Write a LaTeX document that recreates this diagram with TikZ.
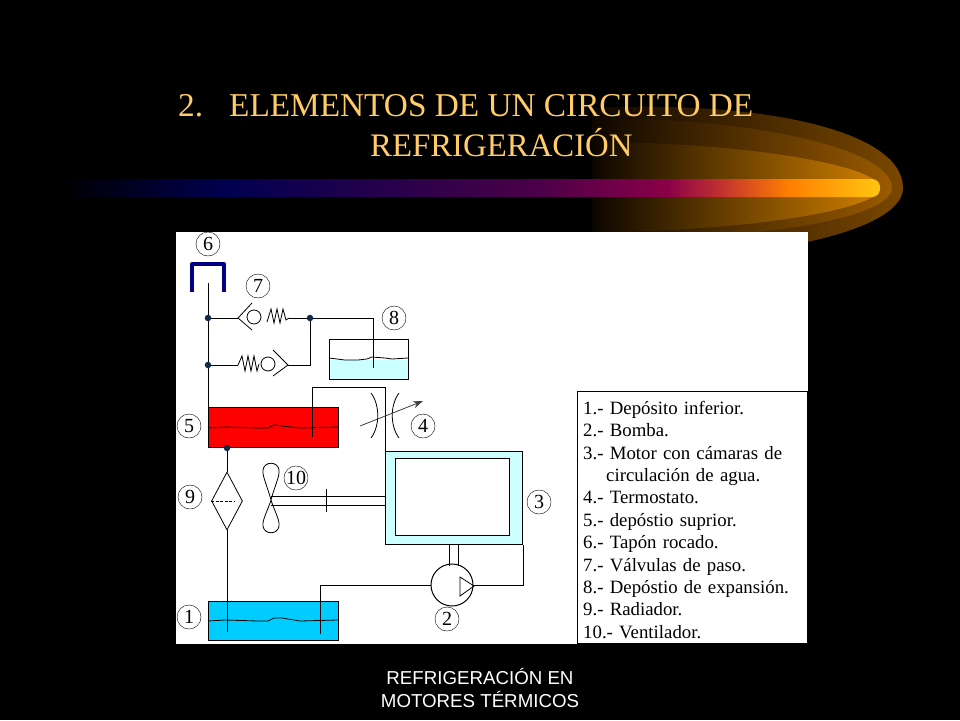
\documentclass[tikz,border=0pt]{standalone}
\usepackage{fontspec}
\setmainfont{Liberation Serif}
\newfontfamily\footfont{Liberation Sans}
\usetikzlibrary{shapes.geometric,positioning,arrows.meta}
\definecolor{titlegold}{HTML}{FFCC66}
\definecolor{capblue}{HTML}{000080}
\definecolor{dotblue}{HTML}{0F2B4A}
\definecolor{paleblue}{HTML}{CCFFFF}
\definecolor{lowblue}{HTML}{00CCFF}
\definecolor{glowstart}{HTML}{0C0600}
\definecolor{glowouter}{HTML}{7A4700}
\definecolor{glowmiddle}{HTML}{9A5A00}
\definecolor{glowinner}{HTML}{D08000}
\definecolor{barnavy}{HTML}{000050}
\definecolor{barpurple}{HTML}{4A0048}
\definecolor{barmagenta}{HTML}{8A0048}
\definecolor{barred}{HTML}{C03030}
\definecolor{barorange}{HTML}{FF8000}
\definecolor{baramber}{HTML}{FFC010}
\pgfdeclarehorizontalshading{barfade}{100bp}{
    color(0bp)=(black); color(25bp)=(black);
    color(35bp)=(barnavy); color(54bp)=(barpurple);
    color(62bp)=(barmagenta); color(65.2bp)=(barred);
    color(69.5bp)=(barorange); color(74.5bp)=(baramber); color(100bp)=(baramber)
}

\begin{document}
\begin{tikzpicture}[
    x=1pt, y=-1pt,
    title/.style={text=titlegold, font=\fontsize{33.3}{36}\selectfont, anchor=base west, inner sep=0},
    footer/.style={text=white, font=\footfont\fontsize{18.7}{23}\selectfont, align=center, inner sep=0},
    pipe/.style={draw=black, line width=1pt},
    thin line/.style={line width=0.8pt},
    joint/.style={circle, fill=dotblue, inner sep=0, minimum size=6.5pt},
    tag/.style={circle, draw, fill=white, inner sep=0, minimum size=24pt, font=\fontsize{20}{20}\selectfont},
    tank/.style={rectangle, draw, inner sep=0, anchor=north west, line width=1pt},
    ball/.style={circle, draw, inner sep=0, minimum size=14pt, line width=0.8pt},
    legend/.style={rectangle, draw, fill=white, inner xsep=6pt, inner ysep=5pt, anchor=north west,
        text width=218pt, align=left, font=\fontsize{18.8}{22.4}\selectfont}
]
    \useasboundingbox (0,0) rectangle (960,720);
    \fill[black] (0,0) rectangle (960,720);

    % bullet behind the bar
    \shade[left color=glowstart, right color=glowouter] (592,108) .. controls (760,100) and (903,130) .. (903,188)
        .. controls (903,225) and (800,258) .. (592,264) -- cycle;
    \shade[left color=glowstart, right color=glowmiddle] (592,118) .. controls (760,118) and (892,150) .. (892,188)
        .. controls (892,215) and (780,240) .. (592,240) -- cycle;
    \shade[left color=glowstart, right color=glowinner] (592,142) .. controls (740,142) and (880,165) .. (880,188)
        .. controls (880,210) and (740,232) .. (592,232) -- cycle;
    \shade[shading=barfade, rounded corners=8pt] (60,179) rectangle (880,197);

    \node[title] (heading) at (178,116) {2.};
    \node[title] (headingA) at (229,116) {ELEMENTOS DE UN CIRCUITO DE};
    \node[title, font=\fontsize{32.8}{36}\selectfont] (headingB) at (370,156) {REFRIGERACIÓN};
    \node[footer] (foot) at (480,688) {REFRIGERACIÓN EN\\MOTORES TÉRMICOS};

    % white sheet
    \fill[white] (176,232) rectangle (808,644);

    % tanks and motor
    \node[tank, draw=none, fill=paleblue, minimum width=79pt, minimum height=20pt] (expwater) at (329,359) {};
    \node[tank, minimum width=79pt, minimum height=40pt] (exptank) at (329,339) {};
    \node[tank, fill=red, minimum width=129.5pt, minimum height=40pt] (redtank) at (208,407) {};
    \node[tank, fill=lowblue, minimum width=129.5pt, minimum height=39pt] (bluetank) at (208,601) {};
    \node[tank, fill=paleblue, minimum width=137pt, minimum height=93pt] (motor) at (385,451) {};
    \node[tank, fill=white, minimum width=114pt, minimum height=77pt] (bore) at (395,458) {};

    % water levels
    \draw[thin line] (329,358) -- (337,359) -- (345,360) -- (358,360) -- (367,359) -- (372,357) -- (385,358) -- (392,359) -- (408,358);
    \draw[thin line] (208,428) -- (225,427) -- (258,428) -- (268,428) -- (274,425) -- (282,426) -- (300,428) -- (338,427);
    \draw[thin line] (208,621) -- (225,620) -- (258,621) -- (268,621) -- (274,618) -- (282,618) -- (300,621) -- (338,620);

    % filler cap and main line
    \draw[capblue, line width=4pt, line join=round] (192,292) -- (192,264) -- (224,264) -- (224,292);
    \coordinate (capend) at (208,283);
    \node[joint] (topjoint) at (208,318) {};
    \node[joint] (lowjoint) at (208,365) {};
    \node[joint] (teejoint) at (310,318) {};
    \draw[pipe] (capend) -- (topjoint) -- (lowjoint) -- (redtank.north west);

    % valves
    \node[ball] (ballA) at (254,317) {};
    \coordinate (apexA) at (238,318);
    \coordinate (springA) at (289,318);
    \draw[pipe] (topjoint) -- (apexA);
    \draw[thin line] (252,303) -- (apexA) -- (252,330);
    \draw[thin line] (267,322) -- (271,309) -- (274,323) -- (277,309) -- (280,323) -- (283,309) -- (286,320) -- (springA);
    \draw[pipe] (springA) -- (teejoint);

    \node[ball] (ballB) at (268,364) {};
    \coordinate (apexB) at (288,365);
    \coordinate (springB) at (238,365);
    \coordinate (cornerB) at (310,365);
    \draw[pipe] (lowjoint) -- (springB);
    \draw[thin line] (springB) -- (242,356) -- (245,371) -- (248,356) -- (251,371) -- (254,356) -- (257,371) -- (259,364);
    \draw[thin line] (273,350) -- (apexB) -- (273,376);
    \draw[pipe] (apexB) -- (cornerB) -- (teejoint);

    % expansion pipe
    \coordinate (expdrop) at (373,368);
    \draw[pipe] (teejoint) -- (373,318) -- (expdrop);

    % hot pipe to the motor
    \coordinate (hotdrop) at (312,437);
    \draw[pipe] (hotdrop) -- (312,387) -| (motor.north west);

    % thermostat
    \draw[thin line] (371,393) .. controls (380,405) and (380,426) .. (371,438);
    \draw[thin line] (399,393) .. controls (390,405) and (390,426) .. (399,438);
    \coordinate (adjA) at (360,426);
    \coordinate (adjB) at (423,401);
    \draw[-{Stealth[length=10pt,width=7pt]}, black!75, line width=0.8pt] (adjA) -- (adjB);

    % radiator
    \node[joint] (radjoint) at (227,448) {};
    \node[diamond, draw, inner sep=0, minimum width=31pt, minimum height=58pt, thin line] (radiator) at (227,501) {};
    \draw[thin line, dash pattern=on 3pt off 1.5pt] (radiator.west) -- (234,501);
    \coordinate (colddrop) at (227,632);
    \draw[pipe] (radjoint) -- (radiator.north);
    \draw[pipe] (radiator.south) -- (colddrop);

    % fan
    \coordinate (fanhub) at (271,500);
    \draw[thin line] (fanhub) .. controls (268,488) and (262,476) .. (263,470) .. controls (264,461) and (278,461) .. (279,470)
        .. controls (280,476) and (274,488) .. (fanhub);
    \draw[thin line] (fanhub) .. controls (268,510) and (262,520) .. (263,526) .. controls (264,535) and (278,535) .. (279,526)
        .. controls (280,520) and (274,510) .. (fanhub);
    \draw[pipe] (271,496) -- (motor.west |- 0,496);
    \draw[pipe] (271,505) -- (motor.west |- 0,505);
    \coordinate (tickA) at (326,489);
    \coordinate (tickB) at (326,512);
    \draw[pipe] (tickA) -- (tickB);

    % pump
    \node[circle, draw, inner sep=0, minimum size=42pt, line width=1pt] (pump) at (452,585) {};
    \coordinate (tri) at (474,586);
    \draw[thin line] (460,577) -- (tri) -- (460,596) -- cycle;
    \coordinate (colddropB) at (320,634);
    \draw[pipe] (colddropB) -- (320,585) -- (pump.west);
    \draw[pipe] (pump.east) -| (motor.south east);
    \draw[pipe] (449,544) -- (449,566);
    \draw[pipe] (458,544) -- (458,566);

    % number tags
    \node[tag] (tagA) at (189,617) {1};
    \node[tag] (tagB) at (447,619) {2};
    \node[tag] (tagC) at (539,502) {3};
    \node[tag] (tagD) at (423,426) {4};
    \node[tag] (tagE) at (189,426) {5};
    \node[tag] (tagF) at (208,244) {6};
    \node[tag] (tagG) at (258,286) {7};
    \node[tag] (tagH) at (394,318) {8};
    \node[tag] (tagI) at (190,497) {9};
    \node[tag] (tagJ) at (296,478) {10};

    \node[legend] (key) at (577,391) {
        \rule{0pt}{18pt}1.- Depósito inferior.\\
        2.- Bomba.\\
        3.- Motor con cámaras de\\
        \hspace*{23pt}circulación de agua.\\
        4.- Termostato.\\
        5.- depóstio suprior.\\
        6.- Tapón rocado.\\
        7.- Válvulas de paso.\\
        8.- Depóstio de expansión.\\
        9.- Radiador.\\
        10.- Ventilador.
    };
\end{tikzpicture}
\end{document}
